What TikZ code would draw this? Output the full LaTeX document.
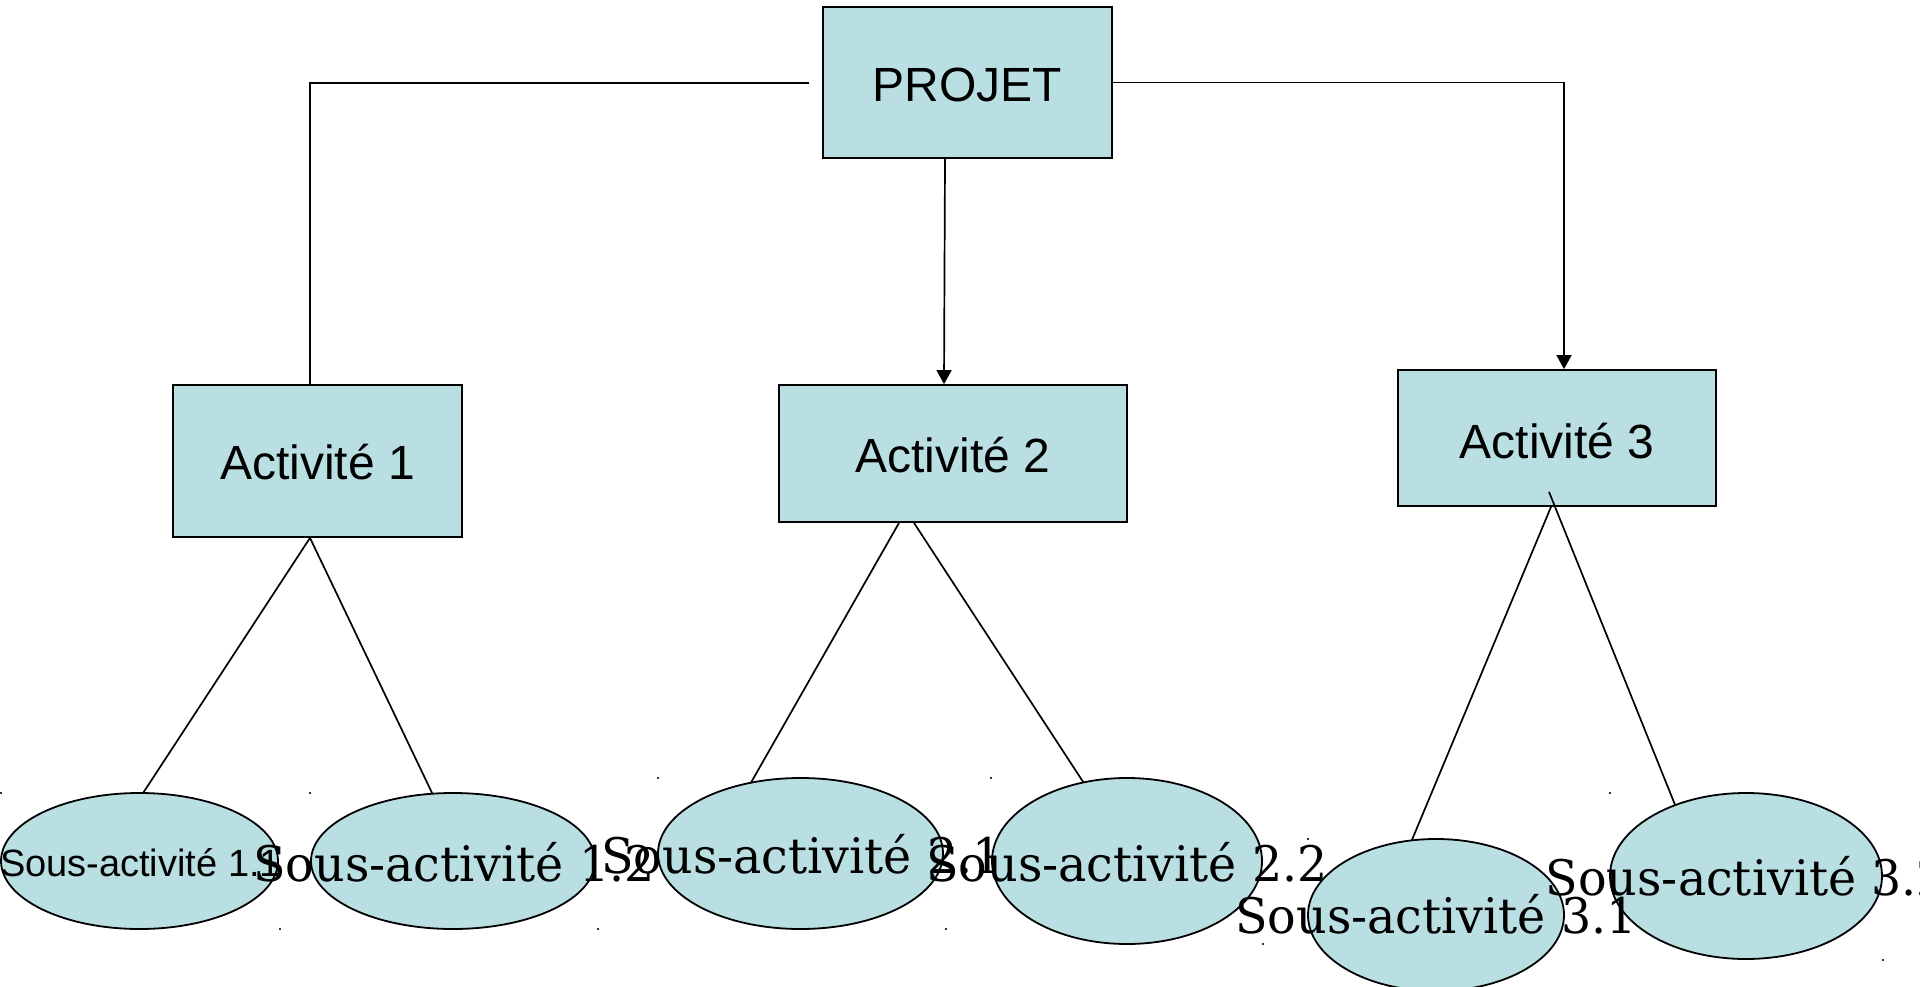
\documentclass[tikz,border=0pt]{standalone}
\usepackage{fontspec}
\usetikzlibrary{arrows.meta,shapes.geometric}
\newfontfamily\boxfont{Liberation Sans}
\newfontfamily\subfont[FakeStretch=0.97]{DejaVu Serif}
\definecolor{boxfill}{RGB}{186,223,227}

\tikzset{
  actbox/.style={draw=black, line width=1.8pt, fill=boxfill, rectangle,
    inner sep=0pt, text height=37pt, text depth=0pt,
    font=\boxfont\fontsize{48}{57}\selectfont},
  subell/.style={draw=black, line width=1.8pt, fill=boxfill, ellipse,
    inner sep=0pt, outer sep=0pt},
  subtxt/.style={anchor=base, inner sep=0pt,
    font=\subfont\fontsize{49}{58}\selectfont},
  link/.style={draw=black, line width=1.7pt},
  arrowlink/.style={link, -{Triangle[width=15pt,length=14pt]}},
  tick/.style={fill=black!80}
}

\begin{document}
\begin{tikzpicture}[x=1pt, y=-1pt]
\useasboundingbox (0,0) rectangle (1920,987);

% top box and the three activity boxes
\node[actbox, minimum width=289pt, minimum height=151pt, text height=39pt] (p) at (967.5,82.5) {PROJET};
\node[actbox, minimum width=289pt, minimum height=152pt, text height=36pt] (a1) at (317.5,461) {Activité 1};
\node[actbox, minimum width=348pt, minimum height=137pt, text height=37pt] (a2) at (953,453.5) {Activité 2};
\node[actbox, minimum width=318pt, minimum height=136pt, text height=40pt] (a3) at (1557,438) {Activité 3};

% sub-activity ellipses
\node[subell, minimum width=277pt, minimum height=136pt] (e11) at (139.5,861) {};
\node[subell, minimum width=284pt, minimum height=136pt] (e12) at (453,861) {};
\node[subell, minimum width=285pt, minimum height=151pt] (e21) at (800.5,853.5) {};
\node[subell, minimum width=270pt, minimum height=166pt] (e22) at (1127,861) {};
\node[subell, minimum width=256pt, minimum height=152pt] (e31) at (1436,915) {};
\node[subell, minimum width=272pt, minimum height=166pt] (e32) at (1746,876) {};

% sub-activity labels
\node[anchor=base, inner sep=0pt, font=\boxfont\fontsize{38}{46}\selectfont] (t11) at (140.5,876) {Sous-activité 1.1};
\node[subtxt] (t12) at (454,881) {Sous-activité 1.2};
\node[subtxt] (t21) at (802,873) {Sous-activité 2.1};
\node[subtxt] (t22) at (1127,881) {Sous-activité 2.2};
\node[subtxt] (t31) at (1436,933) {Sous-activité 3.1};
\node[subtxt] (t32) at (1746.5,895) {Sous-activité 3.2};

% small frame corner marks of the label boxes
\foreach \px/\py in {1/793, 280/929, 310/793, 598/929, 658/778, 946/929,
                     991/778, 1263/944, 1308/839, 1610/793, 1883/960}
  \fill[tick] (\px-1,\py-1) rectangle (\px+1,\py+1);

% connectors from the project box
\coordinate (pl) at (809,83);
\draw[link] (pl) -| ([xshift=-7.5pt]a1.north);
\draw[arrowlink] ([xshift=-22.5pt]p.south) -- ([xshift=-9pt]a2.north);
\draw[arrowlink] (p.east) -| ([xshift=7pt]a3.north);

% connectors to the sub-activities
\draw[link] ([xshift=-7.5pt]a1.south) -- (e11.87);
\draw[link] ([xshift=-7.5pt]a1.south) -- (e12.107);
\draw[link] ([xshift=-54pt]a2.south) -- (e21.125);
\draw[link] ([xshift=-39pt]a2.south) -- (e22.119);
\draw[link] ([xshift=-6pt]a3.south) -- (e31.108);
\draw[link] ([xshift=-8pt,yshift=15pt]a3.south) -- (e32.135);
\end{tikzpicture}
\end{document}
